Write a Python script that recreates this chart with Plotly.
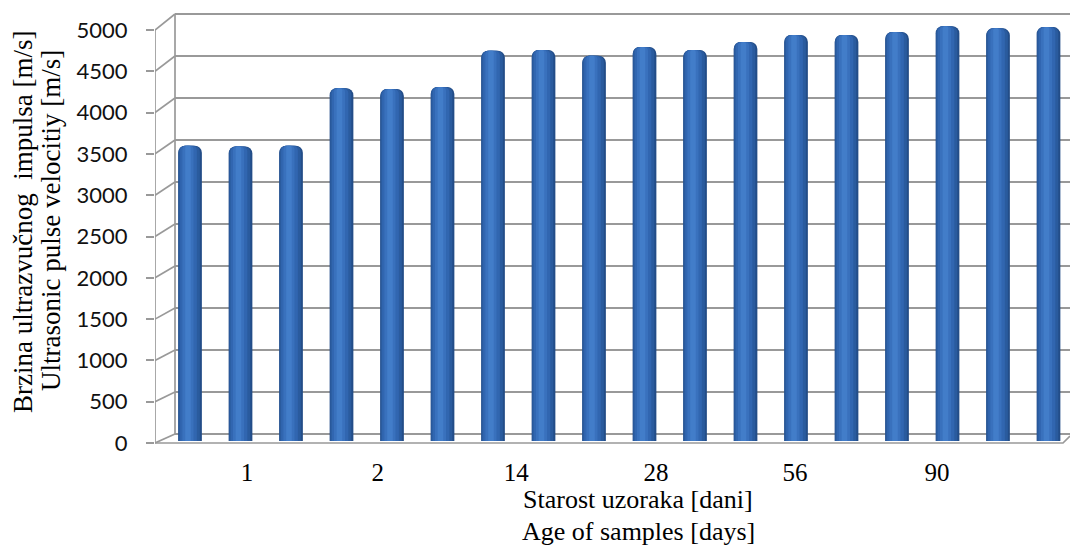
import plotly.graph_objects as go

# Ultrasonic pulse velocity of the samples, three specimens per age
ages = ["1", "2", "14", "28", "56", "90"]
age_label_pos = [1.13, 3.72, 6.46, 9.23, 11.98, 14.79]   # label positions along the bar row
velocity = [3550, 3540, 3550,
            4240, 4230, 4255,
            4690, 4700, 4630,
            4735, 4700, 4795,
            4880, 4880, 4915,
            4985, 4960, 4975]
y_ticks = list(range(0, 5001, 500))

W, H = 1070, 547
L, R, T, B = 155, 0, 10, 97          # plot area margins (px)
PX0, PX1 = L, W - R
PY0, PY1 = T, H - B                  # top / bottom of plot area

# pseudo-3D geometry: front axis, back wall, bar row
FRONT_ZERO, FRONT_K = 443, 0.0826    # px per unit on the front value axis
BACK_ZERO, BACK_K = 434, 0.084       # px per unit on the back wall
BAR_ZERO, BAR_K = 441, 0.0832        # px per unit at the depth of the bars
WALL_LEFT = 175
BAR_X0, BAR_STEP = 190, 50.5         # pixel centre of first bar, spacing


def yrange(zero, k):
    return [-(PY1 - zero) / k, (zero - PY0) / k]


def front_y(v):
    return FRONT_ZERO - v * FRONT_K


def back_y(v):
    return BACK_ZERO - v * BACK_K


def px(x):
    return (x - PX0) / (PX1 - PX0)


def py(y):
    return (PY1 - y) / (PY1 - PY0)


fig = go.Figure()
grid_col = "#999999"

# back wall: an invisible trace keeps its axes (and grid) alive
fig.add_trace(go.Scatter(x=[0.5], y=[2500], mode="markers", xaxis="x", yaxis="y",
                         marker=dict(opacity=0), hoverinfo="skip", showlegend=False))

# frame: front-to-back connectors, axis edges and floor
fx, fy = [], []
for v in y_ticks:
    fx += [PX0, WALL_LEFT, None]
    fy += [front_y(v), back_y(v), None]
fx += [PX0, PX0, None, WALL_LEFT, WALL_LEFT, None, PX0, 1063, PX1, None]
fy += [front_y(0), front_y(5000), None, back_y(0), back_y(5000), None,
       front_y(0), front_y(0), 436, None]
fig.add_trace(go.Scatter(x=fx, y=fy, mode="lines", xaxis="x2", yaxis="y2",
                         line=dict(color=grid_col, width=1.7),
                         hoverinfo="skip", showlegend=False))

# cylinder shading: stacked overlays from dark rim to light core
n = len(velocity)
idx = list(range(n))
layers = [
    (0.47, 0.00, "#234d88", 7),
    (0.42, -0.015, "#2a5b9e", 6),
    (0.33, -0.03, "#3166b0", 5),
    (0.22, -0.04, "#3971bd", 4),
    (0.11, -0.04, "#427dc9", 2),
]
for w, shift, col, rad in layers:
    fig.add_trace(go.Bar(x=idx, y=velocity, width=[w] * n, offset=-w / 2 + shift,
                         marker=dict(color=col, line=dict(width=0), cornerradius=rad),
                         xaxis="x3", yaxis="y3", hoverinfo="skip", showlegend=False))

# front value axis carrier
fig.add_trace(go.Scatter(x=[0], y=[0], mode="markers", xaxis="x3", yaxis="y4",
                         marker=dict(opacity=0), hoverinfo="skip", showlegend=False))

serif = "Liberation Serif"
sans = "Lato"

fig.update_layout(
    width=W, height=H,
    margin=dict(l=L, r=R, t=T, b=B),
    paper_bgcolor="white", plot_bgcolor="rgba(0,0,0,0)",
    barmode="overlay",
    showlegend=False,
    # back wall with horizontal grid
    xaxis=dict(domain=[px(WALL_LEFT), 1], range=[0, 1], showgrid=False,
               showticklabels=False, zeroline=False, showline=False, ticks=""),
    yaxis=dict(domain=[0, 1], range=yrange(BACK_ZERO, BACK_K), tickvals=y_ticks,
               showgrid=True, gridcolor=grid_col, gridwidth=1.7,
               showticklabels=False, zeroline=False, showline=False, ticks=""),
    # pixel-space frame
    xaxis2=dict(domain=[0, 1], range=[PX0, PX1], visible=False, anchor="y2"),
    yaxis2=dict(domain=[0, 1], range=[PY1, PY0], visible=False, anchor="x2"),
    # bars and category labels
    xaxis3=dict(domain=[0, 1], anchor="y3",
                range=[(PX0 - BAR_X0) / BAR_STEP, (PX1 - BAR_X0) / BAR_STEP],
                tickvals=age_label_pos, ticktext=ages, ticks="", showgrid=False,
                zeroline=False, showline=False, ticklabelstandoff=5,
                tickfont=dict(family=serif, size=25, color="black")),
    yaxis3=dict(domain=[0, 1], anchor="x3", range=yrange(BAR_ZERO, BAR_K), visible=False),
    # front value axis
    yaxis4=dict(overlaying="y3", anchor="x3", side="left",
                range=yrange(FRONT_ZERO, FRONT_K), tickvals=y_ticks,
                ticks="outside", ticklen=8, tickwidth=1.7, tickcolor=grid_col,
                ticklabelstandoff=14, showgrid=False, zeroline=False, showline=False,
                tickfont=dict(family=sans, size=22, color="#111111")),
)

# axis titles
fig.add_annotation(text="Starost uzoraka [dani]", x=px(638), y=py(500),
                   xref="paper", yref="paper", showarrow=False,
                   xanchor="center", yanchor="middle",
                   font=dict(family=serif, size=26, color="black"))
fig.add_annotation(text="Age of samples [days]", x=px(638), y=py(531),
                   xref="paper", yref="paper", showarrow=False,
                   xanchor="center", yanchor="middle",
                   font=dict(family=serif, size=26, color="black"))
fig.add_annotation(text="Brzina ultrazvučnog  impulsa [m/s]", x=px(23), y=py(222),
                   xref="paper", yref="paper", showarrow=False, textangle=-90,
                   xanchor="center", yanchor="middle",
                   font=dict(family=serif, size=27, color="black"))
fig.add_annotation(text="Ultrasonic pulse velocitiy [m/s]", x=px(51), y=py(221),
                   xref="paper", yref="paper", showarrow=False, textangle=-90,
                   xanchor="center", yanchor="middle",
                   font=dict(family=serif, size=27, color="black"))

fig.write_html("out.html")
